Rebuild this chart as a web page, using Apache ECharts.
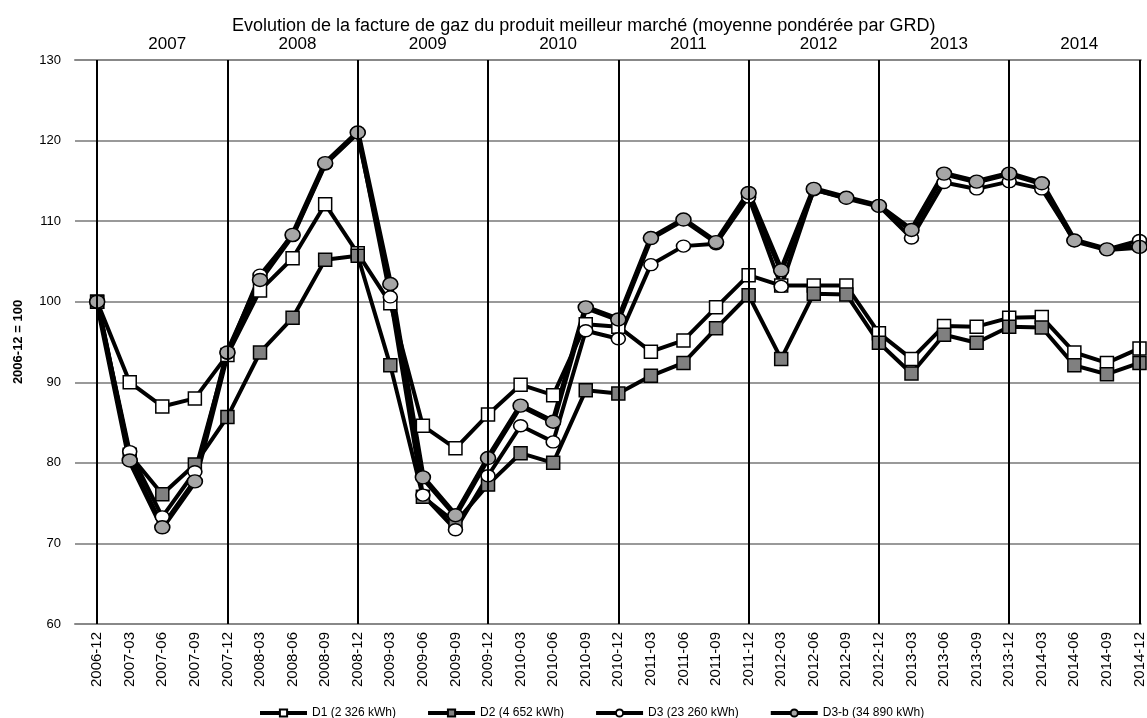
<!DOCTYPE html>
<html>
<head>
<meta charset="utf-8">
<title>Evolution de la facture de gaz</title>
<script src="https://cdn.jsdelivr.net/npm/echarts@6/dist/echarts.min.js"></script>
<style>
  html, body { margin: 0; padding: 0; background: #ffffff; }
  #chart { width: 1147px; height: 718px; }
</style>
</head>
<body>
<div id="chart"></div>
<script>
// trimestres (axe du bas)
const periods = [
  "2006-12", "2007-03", "2007-06", "2007-09", "2007-12", "2008-03", "2008-06", "2008-09",
  "2008-12", "2009-03", "2009-06", "2009-09", "2009-12", "2010-03", "2010-06", "2010-09",
  "2010-12", "2011-03", "2011-06", "2011-09", "2011-12", "2012-03", "2012-06", "2012-09",
  "2012-12", "2013-03", "2013-06", "2013-09", "2013-12", "2014-03", "2014-06", "2014-09",
  "2014-12"
];
// années (axe du haut)
const years = ["2007", "2008", "2009", "2010", "2011", "2012", "2013", "2014"];
// index des fins d'année (traits verticaux)
const yearEnds = [0, 4, 8, 12, 16, 20, 24, 28, 32];

const d1 = [100, 90, 87, 88, 93.4, 101.4, 105.4, 112.1, 106, 99.8, 84.6, 81.8, 86, 89.7, 88.4, 97.2,
  96.9, 93.8, 95.2, 99.3, 103.3, 102, 102, 102, 96.1, 92.9, 97, 96.9, 98, 98.1, 93.7, 92.4, 94.2];
const d2 = [100, 81, 76.1, 79.8, 85.7, 93.7, 98, 105.2, 105.7, 92.1, 75.8, 72.6, 77.3, 81.2, 80, 89,
  88.6, 90.8, 92.4, 96.7, 100.8, 92.9, 101, 100.9, 94.9, 91.1, 95.9, 94.9, 96.9, 96.8, 92.1, 91, 92.4];
const d3 = [100, 81.4, 73.3, 78.9, 93.6, 103.3, 108.2, 117.1, 121, 100.6, 76, 71.7, 78.4, 84.6, 82.6, 96.4,
  95.4, 104.6, 106.9, 107.2, 113, 101.9, 113.9, 112.9, 111.9, 107.9, 114.8, 114, 114.9, 114, 107.6, 106.5, 107.6];
const d3b = [100, 80.3, 72, 77.7, 93.7, 102.7, 108.3, 117.2, 121, 102.2, 78.2, 73.5, 80.6, 87.1, 85.1, 99.3,
  97.8, 107.9, 110.2, 107.4, 113.5, 103.9, 114, 112.9, 111.9, 108.9, 115.9, 114.9, 115.9, 114.7, 107.6, 106.5, 106.8];

const FONT = "Liberation Sans";

function pts(arr) {
  return arr.map((v, i) => [i, v]);
}

let chart = echarts.init(document.getElementById("chart"), null, { renderer: "canvas" });

let xMin = -0.68;
let xMax = 32.04;
let yearPos = years.map((y, i) => 2.15 + i * 4);

let seriesList = [
  {
    name: "lines",
    type: "line",
    data: [],
    silent: true,
    markLine: {
      silent: true,
      symbol: ["none", "none"],
      label: { show: false },
      lineStyle: { color: "#000", width: 2, type: "solid" },
      data: yearEnds.map((i) => ({ xAxis: i })),
    },
  },
  {
    name: "D1 (2 326 kWh)",
    type: "line",
    data: pts(d1),
    symbol: "rect",
    symbolSize: 13,
    lineStyle: { color: "#000", width: 4 },
    itemStyle: { color: "#ffffff", borderColor: "#000", borderWidth: 1.5 },
  },
  {
    name: "D2 (4 652 kWh)",
    type: "line",
    data: pts(d2),
    symbol: "rect",
    symbolSize: 13,
    lineStyle: { color: "#000", width: 4 },
    itemStyle: { color: "#808080", borderColor: "#000", borderWidth: 1.5 },
  },
  {
    name: "D3 (23 260 kWh)",
    type: "line",
    data: pts(d3),
    symbol: "circle",
    symbolSize: [14, 12],
    lineStyle: { color: "#000", width: 4 },
    itemStyle: { color: "#ffffff", borderColor: "#000", borderWidth: 1.5 },
  },
  {
    name: "D3-b (34 890 kWh)",
    type: "line",
    data: pts(d3b),
    symbol: "circle",
    symbolSize: [15, 13],
    lineStyle: { color: "#000", width: 5.5 },
    itemStyle: { color: "#a6a6a6", borderColor: "#000", borderWidth: 1.5 },
  },
];

let option = {
  backgroundColor: "#ffffff",
  animation: false,
  textStyle: { fontFamily: FONT },
  title: {
    text: "Evolution de la facture de gaz du produit meilleur marché (moyenne pondérée par GRD)",
    left: 232,
    top: 17,
    padding: 0,
    textStyle: { fontFamily: FONT, fontSize: 18, fontWeight: "normal", color: "#000" },
  },
  legend: {
    data: ["D1 (2 326 kWh)", "D2 (4 652 kWh)", "D3 (23 260 kWh)", "D3-b (34 890 kWh)"],
    left: 253,
    top: 702,
    itemWidth: 47,
    itemHeight: 9,
    itemGap: 30,
    lineStyle: { width: 4 },
    textStyle: { fontFamily: FONT, fontSize: 12, color: "#000" },
  },
  grid: {
    left: 75,
    right: 0,
    top: 60,
    bottom: 94,
    containLabel: false,
  },
  xAxis: [
    {
      type: "value",
      min: xMin,
      max: xMax,
      position: "bottom",
      axisLine: { show: true, lineStyle: { color: "#888", width: 2 } },
      axisTick: { show: false },
      splitLine: { show: false },
      axisLabel: {
        customValues: periods.map((p, i) => i),
        formatter: (v) => periods[Math.round(v)],
        rotate: 90,
        margin: 8,
        fontSize: 15,
        color: "#000",
        fontFamily: FONT,
      },
    },
    {
      type: "value",
      min: xMin,
      max: xMax,
      position: "top",
      axisLine: { show: true, lineStyle: { color: "#888", width: 2 } },
      axisTick: { show: false },
      splitLine: { show: false },
      axisLabel: {
        customValues: yearPos,
        formatter: (v) => years[Math.round((v - 2.15) / 4)],
        margin: 7,
        fontSize: 17,
        color: "#000",
        fontFamily: FONT,
      },
    },
  ],
  yAxis: {
    type: "value",
    min: 60,
    max: 130,
    interval: 10,
    name: "2006-12 = 100",
    nameLocation: "middle",
    nameGap: 50,
    nameTextStyle: { fontFamily: FONT, fontSize: 13, fontWeight: "bold", color: "#000" },
    axisLine: { show: true, lineStyle: { color: "#888", width: 2 } },
    axisTick: { show: false },
    axisLabel: { fontSize: 13, color: "#000", margin: 14, fontFamily: FONT },
    splitLine: { show: true, lineStyle: { color: "#999", width: 2 } },
  },
  series: seriesList,
};

chart.setOption(option);
</script>
</body>
</html>
